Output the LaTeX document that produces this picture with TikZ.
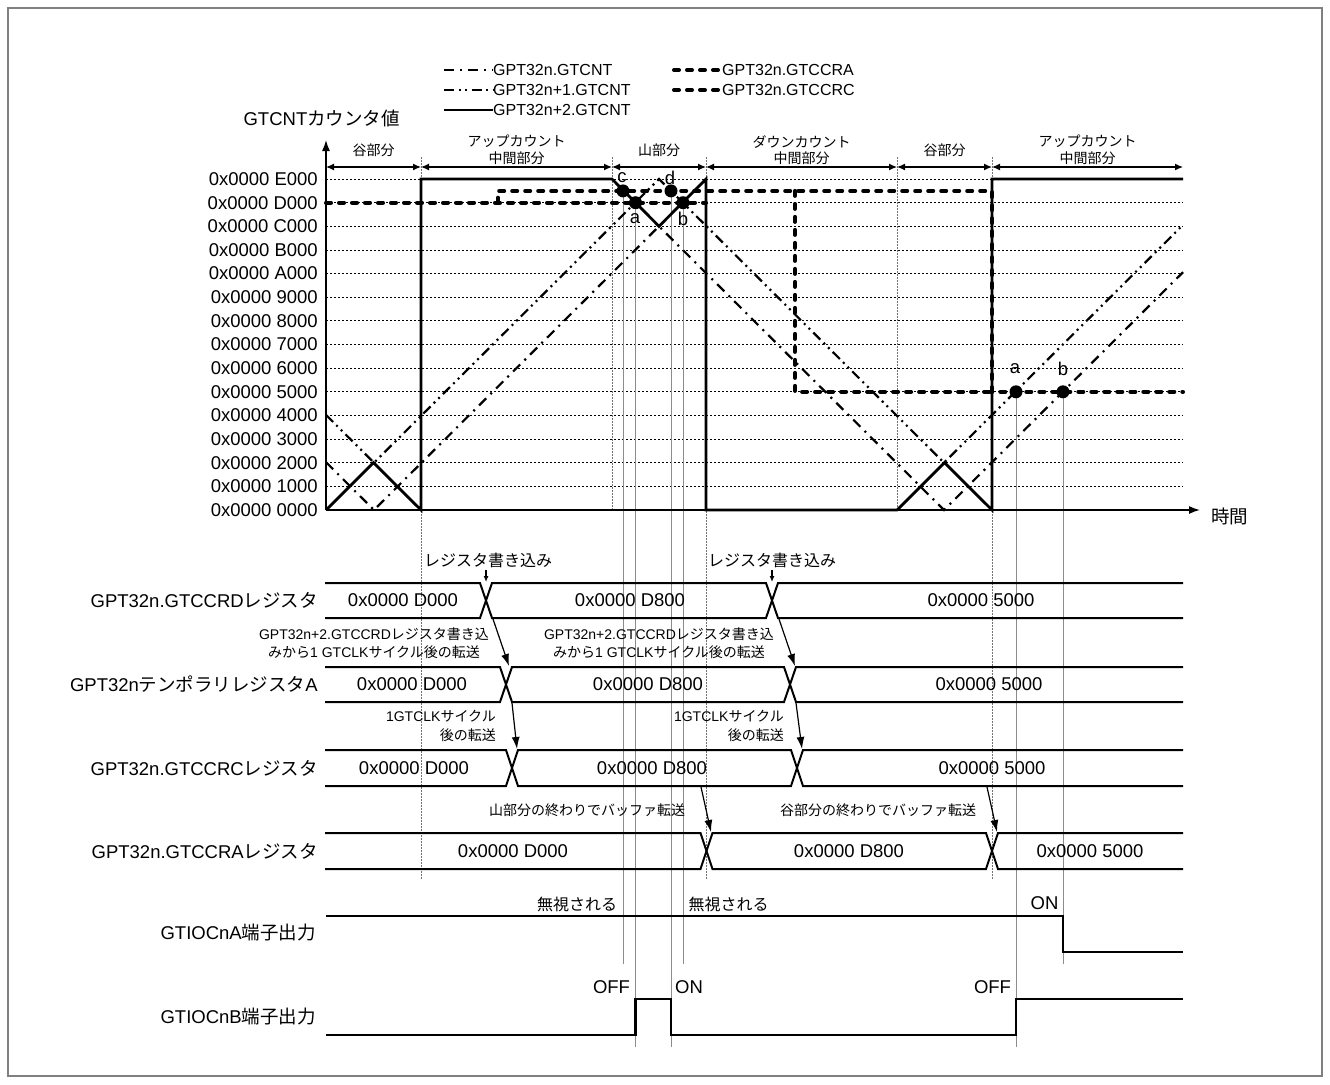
\documentclass[tikz,border=0pt]{standalone}
\usepackage{fontspec}
\setmainfont{Liberation Sans}
\newfontfamily\jp{Noto Sans CJK JP}
\usetikzlibrary{arrows.meta}
\newcommand\fsL{\fontsize{18.5}{22}\selectfont}
\newcommand\fsM{\fontsize{16}{19}\selectfont}
\newcommand\fsS{\fontsize{14}{18.5}\selectfont}
\newcommand\fsH{\fontsize{14}{16.5}\selectfont}
\newcommand\busrow[4]{%
  \draw[bus] (325,#1) -- ({#3-6},#1) -- ({#3+6},#2) -- ({#4-6},#2) -- ({#4+6},#1) -- (1183,#1);
  \draw[bus] (325,#2) -- ({#3-6},#2) -- ({#3+6},#1) -- ({#4-6},#1) -- ({#4+6},#2) -- (1183,#2);}
\begin{document}
\begin{tikzpicture}[x=1pt,y=-1pt,
  every node/.style={inner sep=0pt},
  grid/.style={line width=0.9pt, dash pattern=on 2pt off 2pt},
  sepl/.style={black!55, line width=0.8pt, dash pattern=on 1.5pt off 1.5pt},
  mkl/.style={black!45, line width=0.9pt},
  cntA/.style={line width=2.2pt, dash pattern=on 10pt off 6pt on 2pt off 6pt},
  cntB/.style={line width=2.2pt, dash pattern=on 10pt off 4.5pt on 2pt off 4.5pt on 2pt off 4.5pt},
  cntC/.style={line width=2.8pt},
  cmpl/.style={line width=4pt, dash pattern=on 5pt off 8pt, line cap=round},
  bus/.style={line width=2pt},
  sig/.style={line width=2.4pt},
  harr/.style={line width=1.2pt, {Latex[length=8pt,width=7pt]}-{Latex[length=8pt,width=7pt]}},
  tarr/.style={line width=1.2pt, -{Latex[length=12pt,width=8pt]}},
  warr/.style={line width=1.4pt, -{Latex[length=6pt,width=5pt]}},
  pt/.style={circle, fill=black, minimum size=13pt, inner sep=0pt},
  lbl/.style={font=\fsL},
  val/.style={font=\fsL}
]
\useasboundingbox (0,0) rectangle (1330,1084);
\draw[black!50, line width=1.2pt] (8,8) rectangle (1322,1076);

% grid
\foreach \k in {1,...,14} \draw[grid] (326,{510-23.64*\k}) -- (1183,{510-23.64*\k});
\foreach \k/\hx in {0/0000,1/1000,2/2000,3/3000,4/4000,5/5000,6/6000,7/7000,8/8000,9/9000,10/A000,11/B000,12/C000,13/D000,14/E000}
  \node[anchor=east, font=\fsL] (yl\k) at (318,{510-23.64*\k}) {0x0000 \hx};

% separators
\foreach \xx in {612,897} \draw[sepl] (\xx,157) -- (\xx,510);
\foreach \xx in {421,706,992} \draw[sepl] (\xx,157) -- (\xx,880);

% marker lines
\draw[mkl] (623,191) -- (623,964);
\draw[mkl] (635.5,203) -- (635.5,1047);
\draw[mkl] (671,191) -- (671,1047);
\draw[mkl] (683,203) -- (683,964);
\draw[mkl] (1016,392) -- (1016,1047);
\draw[mkl] (1063,392) -- (1063,964);

% counters
\draw[cntB] (326,414.9) -- (374,462.7) -- (659,179) -- (944,462.7) -- (1183,224.9);
\draw[cntA] (326,462.2) -- (374,510) -- (659,226.3) -- (944,510) -- (1183,272.2);

% compare registers
\draw[cmpl] (326,202.7) -- (706,202.7);
\draw[cmpl] (498,202.7) -- (498,190.9) -- (992,190.9) -- (992,391.8) -- (1183,391.8);
\draw[cmpl] (795,190.9) -- (795,391.8) -- (992,391.8);

% GPT32n+2 counter
\draw[cntC] (326,510) -- (373.5,462.7) -- (421,510) -- (421,179) -- (612,179) -- (659,226.3)
  -- (706,179) -- (706,510) -- (897,510) -- (944.5,462.7) -- (992,510) -- (992,179) -- (1183,179);

% axes
\coordinate (O) at (326,510);
\coordinate (ytop) at (326,140);
\coordinate (xend) at (1200,510);
\draw[line width=1.5pt, -{Latex[length=11pt,width=8pt]}] (O) -- (ytop);
\draw[line width=1.5pt, -{Latex[length=11pt,width=8pt]}] (O) -- (xend);
\node[anchor=west, font={\fsL\jp}] (tm) at (1211,516) {時間};
\node[anchor=east, font=\fsL] (ylab) at (400,118) {GTCNT{\jp カウンタ値}};

% header arrows
\foreach \i/\xx in {0/326,1/421,2/612,3/706,4/897,5/992,6/1183} \coordinate (h\i) at (\xx,167);
\draw[harr] (h0) -- (h1);
\draw[harr] (h1) -- (h2);
\draw[harr] (h2) -- (h3);
\draw[harr] (h3) -- (h4);
\draw[harr] (h4) -- (h5);
\draw[harr] (h5) -- (h6);
\node[font={\fsH\jp}, align=center] (hd1) at (373.5,150) {谷部分};
\node[font={\fsH\jp}, align=center] (hd2) at (516.5,150) {アップカウント\\中間部分};
\node[font={\fsH\jp}, align=center] (hd3) at (659,150) {山部分};
\node[font={\fsH\jp}, align=center] (hd4) at (801.5,150) {ダウンカウント\\中間部分};
\node[font={\fsH\jp}, align=center] (hd5) at (944.5,150) {谷部分};
\node[font={\fsH\jp}, align=center] (hd6) at (1087.5,150) {アップカウント\\中間部分};

% compare points
\node[pt] (pc) at (623,190.9) {};
\node[pt] (pa) at (635.5,202.7) {};
\node[pt] (pd) at (671,190.9) {};
\node[pt] (pb) at (683,202.7) {};
\node[pt] (pa2) at (1016,391.8) {};
\node[pt] (pb2) at (1063,391.8) {};
\node[font=\fsL] (lc) at (622,178) {c};
\node[font=\fsL] (ld) at (670,178) {d};
\node[font=\fsL] (la) at (635,219) {a};
\node[font=\fsL] (lb) at (683,219) {b};
\node[font=\fsL] (la2) at (1015,369) {a};
\node[font=\fsL] (lb2) at (1063,369) {b};

% legend
\draw[cntA] (444,70) -- (493,70);
\node[anchor=west, font=\fsM] (lg1) at (493,70) {GPT32n.GTCNT};
\draw[cntB] (444,90) -- (493,90);
\node[anchor=west, font=\fsM] (lg2) at (493,90) {GPT32n+1.GTCNT};
\draw[cntC] (444,110) -- (493,110);
\node[anchor=west, font=\fsM] (lg3) at (493,110) {GPT32n+2.GTCNT};
\draw[cmpl] (674,70) -- (720,70);
\node[anchor=west, font=\fsM] (lg4) at (722,70) {GPT32n.GTCCRA};
\draw[cmpl] (674,90) -- (720,90);
\node[anchor=west, font=\fsM] (lg5) at (722,90) {GPT32n.GTCCRC};

% register rows
\busrow{583}{618}{486}{772}
\busrow{667}{702}{506}{790}
\busrow{750}{786}{512}{797}
\busrow{833}{869}{706.5}{992}

\node[anchor=east, font=\fsL] (r1) at (318,600) {GPT32n.GTCCRD{\jp レジスタ}};
\node[anchor=east, font=\fsL] (r2) at (318,684) {GPT32n{\jp テンポラリレジスタ}A};
\node[anchor=east, font=\fsL] (r3) at (318,768) {GPT32n.GTCCRC{\jp レジスタ}};
\node[anchor=east, font=\fsL] (r4) at (318,851) {GPT32n.GTCCRA{\jp レジスタ}};
\node[anchor=east, font=\fsL] (r5) at (316,933) {GTIOCnA{\jp 端子出力}};
\node[anchor=east, font=\fsL] (r6) at (316,1017) {GTIOCnB{\jp 端子出力}};

\node[val] (v11) at (403,600) {0x0000 D000};
\node[val] (v12) at (630,600) {0x0000 D800};
\node[val] (v13) at (981,600) {0x0000 5000};
\node[val] (v21) at (412,684) {0x0000 D000};
\node[val] (v22) at (648,684) {0x0000 D800};
\node[val] (v23) at (989,684) {0x0000 5000};
\node[val] (v31) at (414,768) {0x0000 D000};
\node[val] (v32) at (652,768) {0x0000 D800};
\node[val] (v33) at (992,768) {0x0000 5000};
\node[val] (v41) at (513,851) {0x0000 D000};
\node[val] (v42) at (849,851) {0x0000 D800};
\node[val] (v43) at (1090,851) {0x0000 5000};

% write markers
\node[font={\fsM\jp}] (w1) at (488,560) {レジスタ書き込み};
\node[font={\fsM\jp}] (w2) at (772,560) {レジスタ書き込み};
\coordinate (w1s) at (486,570); \coordinate (w1e) at (486,582);
\coordinate (w2s) at (772,570); \coordinate (w2e) at (772,582);
\draw[warr] (w1s) -- (w1e);
\draw[warr] (w2s) -- (w2e);

% transfer captions
\node[font=\fsS, align=center] (c1) at (374,643) {GPT32n+2.GTCCRD{\jp レジスタ書き込}\\{\jp みから}1 GTCLK{\jp サイクル後の転送}};
\node[font=\fsS, align=center] (c2) at (659,643) {GPT32n+2.GTCCRD{\jp レジスタ書き込}\\{\jp みから}1 GTCLK{\jp サイクル後の転送}};
\node[font=\fsS, align=right, anchor=east] (c3) at (496,726) {1GTCLK{\jp サイクル}\\{\jp 後の転送}};
\node[font=\fsS, align=right, anchor=east] (c4) at (784,726) {1GTCLK{\jp サイクル}\\{\jp 後の転送}};
\node[font={\fsS\jp}] (c5) at (587,810) {山部分の終わりでバッファ転送};
\node[font={\fsS\jp}] (c6) at (878,810) {谷部分の終わりでバッファ転送};

\coordinate (t1s) at (493,619); \coordinate (t1e) at (509,666);
\coordinate (t2s) at (779,619); \coordinate (t2e) at (795,666);
\coordinate (t3s) at (512,703); \coordinate (t3e) at (517,749);
\coordinate (t4s) at (796,703); \coordinate (t4e) at (802,749);
\coordinate (t5s) at (701,787); \coordinate (t5e) at (711,832);
\coordinate (t6s) at (987,787); \coordinate (t6e) at (997,832);
\draw[tarr] (t1s) -- (t1e);
\draw[tarr] (t2s) -- (t2e);
\draw[tarr] (t3s) -- (t3e);
\draw[tarr] (t4s) -- (t4e);
\draw[tarr] (t5s) -- (t5e);
\draw[tarr] (t6s) -- (t6e);

% output pins
\draw[sig] (326,916) -- (1063,916) -- (1063,951.7) -- (1183,951.7);
\draw[sig] (326,1035) -- (635.5,1035) -- (635.5,999) -- (671,999) -- (671,1035) -- (1016,1035) -- (1016,999) -- (1183,999);
\node[font={\fsM\jp}] (ig1) at (577,904) {無視される};
\node[font={\fsM\jp}] (ig2) at (728.5,904) {無視される};
\node[font=\fsL] (on1) at (1044.5,903) {ON};
\node[font=\fsL] (of1) at (611.5,987) {OFF};
\node[font=\fsL] (on2) at (689,987) {ON};
\node[font=\fsL] (of2) at (992.5,987) {OFF};
\end{tikzpicture}
\end{document}
